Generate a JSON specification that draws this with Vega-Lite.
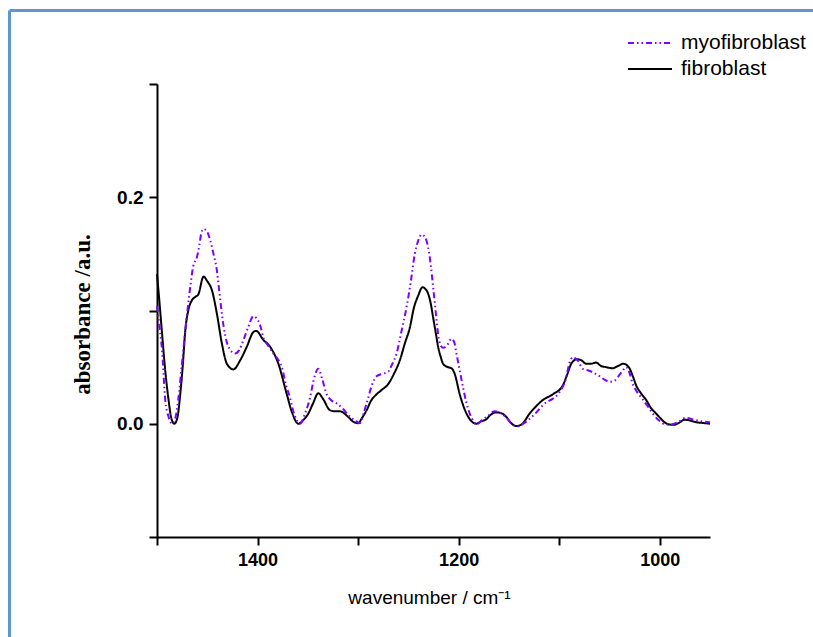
{
  "$schema": "https://vega.github.io/schema/vega-lite/v6.json",
  "usermeta": {"embedOptions": {"actions": false}},
  "width": 553,
  "height": 453,
  "autosize": {"type": "none"},
  "padding": {"left": 157, "top": 84, "right": 103, "bottom": 100},
  "background": "white",
  "config": {"view": {"stroke": null}, "font": "Liberation Sans"},
  "datasets": {
    "spectra": [
      {"s":"fibroblast","w":1500,"a":0.132},{"s":"fibroblast","w":1497.7,"a":0.109},{"s":"fibroblast","w":1495,"a":0.080},{"s":"fibroblast","w":1491.8,"a":0.047},{"s":"fibroblast","w":1488.5,"a":0.021},{"s":"fibroblast","w":1485.8,"a":0.005},{"s":"fibroblast","w":1482.8,"a":0.0},{"s":"fibroblast","w":1479.8,"a":0.005},{"s":"fibroblast","w":1476.9,"a":0.026},{"s":"fibroblast","w":1474.4,"a":0.051},{"s":"fibroblast","w":1471.9,"a":0.082},{"s":"fibroblast","w":1468.9,"a":0.100},{"s":"fibroblast","w":1465.3,"a":0.109},{"s":"fibroblast","w":1462,"a":0.112},{"s":"fibroblast","w":1459,"a":0.114},{"s":"fibroblast","w":1453.7,"a":0.130},{"s":"fibroblast","w":1450.1,"a":0.126},{"s":"fibroblast","w":1445.4,"a":0.118},{"s":"fibroblast","w":1440.4,"a":0.097},{"s":"fibroblast","w":1435.5,"a":0.071},{"s":"fibroblast","w":1430.5,"a":0.053},{"s":"fibroblast","w":1424,"a":0.048},{"s":"fibroblast","w":1417.3,"a":0.056},{"s":"fibroblast","w":1410.7,"a":0.068},{"s":"fibroblast","w":1404.1,"a":0.081},{"s":"fibroblast","w":1401.4,"a":0.082},{"s":"fibroblast","w":1394.2,"a":0.074},{"s":"fibroblast","w":1387.5,"a":0.068},{"s":"fibroblast","w":1379.3,"a":0.053},{"s":"fibroblast","w":1370.9,"a":0.026},{"s":"fibroblast","w":1365.7,"a":0.010},{"s":"fibroblast","w":1359.4,"a":0.0},{"s":"fibroblast","w":1354.8,"a":0.003},{"s":"fibroblast","w":1349.5,"a":0.009},{"s":"fibroblast","w":1344.8,"a":0.018},{"s":"fibroblast","w":1339.6,"a":0.027},{"s":"fibroblast","w":1334.9,"a":0.022},{"s":"fibroblast","w":1328,"a":0.012},{"s":"fibroblast","w":1323,"a":0.011},{"s":"fibroblast","w":1318,"a":0.011},{"s":"fibroblast","w":1309.8,"a":0.006},{"s":"fibroblast","w":1305.1,"a":0.002},{"s":"fibroblast","w":1299.9,"a":0.0005},{"s":"fibroblast","w":1296.2,"a":0.005},{"s":"fibroblast","w":1291.5,"a":0.012},{"s":"fibroblast","w":1287.3,"a":0.020},{"s":"fibroblast","w":1281.6,"a":0.026},{"s":"fibroblast","w":1276.3,"a":0.030},{"s":"fibroblast","w":1270.1,"a":0.035},{"s":"fibroblast","w":1264.4,"a":0.044},{"s":"fibroblast","w":1258.5,"a":0.056},{"s":"fibroblast","w":1253.5,"a":0.071},{"s":"fibroblast","w":1248.5,"a":0.085},{"s":"fibroblast","w":1244.6,"a":0.102},{"s":"fibroblast","w":1240.3,"a":0.113},{"s":"fibroblast","w":1235.9,"a":0.1206},{"s":"fibroblast","w":1233.1,"a":0.119},{"s":"fibroblast","w":1230.4,"a":0.115},{"s":"fibroblast","w":1227.7,"a":0.106},{"s":"fibroblast","w":1225.4,"a":0.094},{"s":"fibroblast","w":1222.7,"a":0.080},{"s":"fibroblast","w":1220.4,"a":0.068},{"s":"fibroblast","w":1217.8,"a":0.059},{"s":"fibroblast","w":1215.5,"a":0.053},{"s":"fibroblast","w":1210.8,"a":0.050},{"s":"fibroblast","w":1207.1,"a":0.049},{"s":"fibroblast","w":1203.9,"a":0.044},{"s":"fibroblast","w":1198.9,"a":0.026},{"s":"fibroblast","w":1192.2,"a":0.009},{"s":"fibroblast","w":1188,"a":0.003},{"s":"fibroblast","w":1182.3,"a":0.0},{"s":"fibroblast","w":1178,"a":0.002},{"s":"fibroblast","w":1172.4,"a":0.004},{"s":"fibroblast","w":1168.1,"a":0.008},{"s":"fibroblast","w":1162.5,"a":0.010},{"s":"fibroblast","w":1158.2,"a":0.0095},{"s":"fibroblast","w":1152.5,"a":0.006},{"s":"fibroblast","w":1148.3,"a":0.001},{"s":"fibroblast","w":1142.6,"a":-0.002},{"s":"fibroblast","w":1137.3,"a":-0.0006},{"s":"fibroblast","w":1129.4,"a":0.009},{"s":"fibroblast","w":1123.4,"a":0.015},{"s":"fibroblast","w":1116.2,"a":0.021},{"s":"fibroblast","w":1106.3,"a":0.026},{"s":"fibroblast","w":1096.3,"a":0.034},{"s":"fibroblast","w":1092.2,"a":0.043},{"s":"fibroblast","w":1088,"a":0.053},{"s":"fibroblast","w":1082.4,"a":0.057},{"s":"fibroblast","w":1077.8,"a":0.056},{"s":"fibroblast","w":1073.1,"a":0.053},{"s":"fibroblast","w":1068.4,"a":0.053},{"s":"fibroblast","w":1063.2,"a":0.054},{"s":"fibroblast","w":1058.4,"a":0.051},{"s":"fibroblast","w":1053.3,"a":0.050},{"s":"fibroblast","w":1046.7,"a":0.049},{"s":"fibroblast","w":1041.5,"a":0.051},{"s":"fibroblast","w":1036.1,"a":0.053},{"s":"fibroblast","w":1030.1,"a":0.049},{"s":"fibroblast","w":1027.2,"a":0.043},{"s":"fibroblast","w":1023.5,"a":0.034},{"s":"fibroblast","w":1018.7,"a":0.027},{"s":"fibroblast","w":1013.5,"a":0.021},{"s":"fibroblast","w":1008.8,"a":0.014},{"s":"fibroblast","w":1003.6,"a":0.009},{"s":"fibroblast","w":999.4,"a":0.005},{"s":"fibroblast","w":995.4,"a":0.0014},{"s":"fibroblast","w":990.5,"a":-0.0006},{"s":"fibroblast","w":985.5,"a":-0.0009},{"s":"fibroblast","w":980.5,"a":0.001},{"s":"fibroblast","w":975.5,"a":0.0035},{"s":"fibroblast","w":970.6,"a":0.003},{"s":"fibroblast","w":963.9,"a":0.0014},{"s":"fibroblast","w":957.2,"a":0.0007},{"s":"fibroblast","w":950,"a":0.0},
      {"s":"myofibroblast","w":1500,"a":0.104},{"s":"myofibroblast","w":1497.7,"a":0.087},{"s":"myofibroblast","w":1495,"a":0.065},{"s":"myofibroblast","w":1491.8,"a":0.021},{"s":"myofibroblast","w":1488.8,"a":0.007},{"s":"myofibroblast","w":1485.1,"a":0.0},{"s":"myofibroblast","w":1481.8,"a":0.005},{"s":"myofibroblast","w":1478.9,"a":0.021},{"s":"myofibroblast","w":1475.2,"a":0.053},{"s":"myofibroblast","w":1471.9,"a":0.082},{"s":"myofibroblast","w":1466.9,"a":0.121},{"s":"myofibroblast","w":1464,"a":0.139},{"s":"myofibroblast","w":1460.3,"a":0.147},{"s":"myofibroblast","w":1458,"a":0.157},{"s":"myofibroblast","w":1456,"a":0.168},{"s":"myofibroblast","w":1453.7,"a":0.172},{"s":"myofibroblast","w":1451.1,"a":0.171},{"s":"myofibroblast","w":1447.1,"a":0.162},{"s":"myofibroblast","w":1444.1,"a":0.151},{"s":"myofibroblast","w":1440.4,"a":0.135},{"s":"myofibroblast","w":1438.2,"a":0.118},{"s":"myofibroblast","w":1435.5,"a":0.097},{"s":"myofibroblast","w":1432.2,"a":0.078},{"s":"myofibroblast","w":1428.9,"a":0.068},{"s":"myofibroblast","w":1422.3,"a":0.062},{"s":"myofibroblast","w":1418.3,"a":0.065},{"s":"myofibroblast","w":1414,"a":0.074},{"s":"myofibroblast","w":1409.4,"a":0.085},{"s":"myofibroblast","w":1404.1,"a":0.095},{"s":"myofibroblast","w":1400.9,"a":0.093},{"s":"myofibroblast","w":1397.4,"a":0.087},{"s":"myofibroblast","w":1394.2,"a":0.076},{"s":"myofibroblast","w":1389.5,"a":0.069},{"s":"myofibroblast","w":1384.2,"a":0.062},{"s":"myofibroblast","w":1380.6,"a":0.058},{"s":"myofibroblast","w":1375.9,"a":0.050},{"s":"myofibroblast","w":1371.6,"a":0.034},{"s":"myofibroblast","w":1367.7,"a":0.023},{"s":"myofibroblast","w":1364.7,"a":0.012},{"s":"myofibroblast","w":1361,"a":0.003},{"s":"myofibroblast","w":1357.7,"a":0.0},{"s":"myofibroblast","w":1352.8,"a":0.009},{"s":"myofibroblast","w":1347.8,"a":0.023},{"s":"myofibroblast","w":1343.8,"a":0.040},{"s":"myofibroblast","w":1339.6,"a":0.0485},{"s":"myofibroblast","w":1335.9,"a":0.040},{"s":"myofibroblast","w":1331.2,"a":0.026},{"s":"myofibroblast","w":1327,"a":0.021},{"s":"myofibroblast","w":1321.3,"a":0.018},{"s":"myofibroblast","w":1314.8,"a":0.013},{"s":"myofibroblast","w":1309.1,"a":0.007},{"s":"myofibroblast","w":1303.1,"a":0.003},{"s":"myofibroblast","w":1298.2,"a":0.0005},{"s":"myofibroblast","w":1294.2,"a":0.010},{"s":"myofibroblast","w":1289.9,"a":0.023},{"s":"myofibroblast","w":1286.3,"a":0.034},{"s":"myofibroblast","w":1281.6,"a":0.042},{"s":"myofibroblast","w":1276.3,"a":0.044},{"s":"myofibroblast","w":1270.1,"a":0.046},{"s":"myofibroblast","w":1265.9,"a":0.053},{"s":"myofibroblast","w":1261.7,"a":0.062},{"s":"myofibroblast","w":1257,"a":0.081},{"s":"myofibroblast","w":1251.8,"a":0.103},{"s":"myofibroblast","w":1247.5,"a":0.126},{"s":"myofibroblast","w":1243.6,"a":0.150},{"s":"myofibroblast","w":1240.1,"a":0.162},{"s":"myofibroblast","w":1236.9,"a":0.167},{"s":"myofibroblast","w":1233.6,"a":0.165},{"s":"myofibroblast","w":1230.4,"a":0.156},{"s":"myofibroblast","w":1227.7,"a":0.140},{"s":"myofibroblast","w":1225.4,"a":0.121},{"s":"myofibroblast","w":1222.7,"a":0.098},{"s":"myofibroblast","w":1220.4,"a":0.079},{"s":"myofibroblast","w":1217.8,"a":0.069},{"s":"myofibroblast","w":1215.5,"a":0.067},{"s":"myofibroblast","w":1211.8,"a":0.069},{"s":"myofibroblast","w":1207.1,"a":0.075},{"s":"myofibroblast","w":1204.4,"a":0.072},{"s":"myofibroblast","w":1202.2,"a":0.062},{"s":"myofibroblast","w":1198.9,"a":0.047},{"s":"myofibroblast","w":1195.6,"a":0.032},{"s":"myofibroblast","w":1192.4,"a":0.019},{"s":"myofibroblast","w":1189,"a":0.009},{"s":"myofibroblast","w":1185,"a":0.002},{"s":"myofibroblast","w":1182,"a":-0.0006},{"s":"myofibroblast","w":1177.1,"a":0.003},{"s":"myofibroblast","w":1172.1,"a":0.006},{"s":"myofibroblast","w":1164.1,"a":0.011},{"s":"myofibroblast","w":1158.2,"a":0.0095},{"s":"myofibroblast","w":1152.5,"a":0.0055},{"s":"myofibroblast","w":1148.3,"a":0.001},{"s":"myofibroblast","w":1142.6,"a":-0.0024},{"s":"myofibroblast","w":1135.4,"a":0.0003},{"s":"myofibroblast","w":1126.1,"a":0.007},{"s":"myofibroblast","w":1112.8,"a":0.019},{"s":"myofibroblast","w":1106.6,"a":0.022},{"s":"myofibroblast","w":1099.6,"a":0.028},{"s":"myofibroblast","w":1093,"a":0.041},{"s":"myofibroblast","w":1089.7,"a":0.054},{"s":"myofibroblast","w":1086.4,"a":0.0588},{"s":"myofibroblast","w":1081.7,"a":0.056},{"s":"myofibroblast","w":1076.5,"a":0.0485},{"s":"myofibroblast","w":1070.8,"a":0.047},{"s":"myofibroblast","w":1064.9,"a":0.0447},{"s":"myofibroblast","w":1059.9,"a":0.042},{"s":"myofibroblast","w":1055,"a":0.039},{"s":"myofibroblast","w":1050,"a":0.037},{"s":"myofibroblast","w":1045,"a":0.038},{"s":"myofibroblast","w":1041,"a":0.042},{"s":"myofibroblast","w":1036.8,"a":0.047},{"s":"myofibroblast","w":1033.4,"a":0.050},{"s":"myofibroblast","w":1030.1,"a":0.045},{"s":"myofibroblast","w":1027.2,"a":0.036},{"s":"myofibroblast","w":1023.2,"a":0.029},{"s":"myofibroblast","w":1017.3,"a":0.022},{"s":"myofibroblast","w":1012.3,"a":0.016},{"s":"myofibroblast","w":1007,"a":0.009},{"s":"myofibroblast","w":1000.9,"a":0.003},{"s":"myofibroblast","w":994.2,"a":-0.0006},{"s":"myofibroblast","w":988.4,"a":-0.0006},{"s":"myofibroblast","w":981,"a":0.002},{"s":"myofibroblast","w":974.1,"a":0.0053},{"s":"myofibroblast","w":967.1,"a":0.0038},{"s":"myofibroblast","w":959.2,"a":0.0023},{"s":"myofibroblast","w":950,"a":0.0014}
    ]
  },
  "data": {"name": "spectra"},
  "layer": [
    {
      "mark": {"type": "line", "opacity": 0},
      "encoding": {
        "x": {"field": "w", "type": "quantitative",
          "scale": {"domain": [950, 1500], "range": [-148, 660], "nice": false, "zero": false},
          "axis": {"orient": "top", "offset": 74, "domainColor": "#5f96d0", "domainWidth": 3, "ticks": false, "labels": false, "title": null, "grid": false}},
        "y": {"field": "a", "type": "quantitative",
          "scale": {"domain": [-0.1, 0.3], "range": [560, -74], "nice": false, "zero": false},
          "axis": {"orient": "left", "offset": 148, "domainColor": "#5f96d0", "domainWidth": 3, "ticks": false, "labels": false, "title": null, "grid": false}}
      }
    },
    {
      "mark": {"type": "line", "interpolate": "monotone", "strokeWidth": 2},
      "encoding": {
        "x": {"field": "w", "type": "quantitative",
          "scale": {"domain": [950, 1500], "reverse": true, "nice": false, "zero": false},
          "axis": {"orient": "bottom", "values": [1500, 1400, 1300, 1200, 1100, 1000], "format": "d",
            "labelExpr": "datum.value % 200 == 0 ? datum.label : ''",
            "grid": false, "domainColor": "#000000", "domainWidth": 2, "tickColor": "#000000", "tickWidth": 2, "tickSize": 8,
            "labelFont": "Liberation Sans", "labelFontWeight": "bold", "labelFontSize": 18, "labelColor": "#000000", "labelPadding": 6,
            "labelFlush": false, "labelOverlap": false,
            "title": "wavenumber / cm⁻¹", "titleFont": "Liberation Sans", "titleFontWeight": "normal", "titleFontSize": 19, "titleColor": "#000000",
            "titleBaseline": "alphabetic", "titleY": 66, "titleX": 272}},
        "y": {"field": "a", "type": "quantitative",
          "scale": {"domain": [-0.1, 0.3], "nice": false, "zero": false},
          "axis": {"orient": "left", "values": [-0.1, 0, 0.1, 0.2, 0.3],
            "labelExpr": "(abs(datum.value) < 1e-9 || abs(datum.value - 0.2) < 1e-9) ? format(datum.value, '.1f') : ''",
            "grid": false, "domainColor": "#000000", "domainWidth": 2, "tickColor": "#000000", "tickWidth": 2, "tickSize": 8,
            "labelFont": "Liberation Sans", "labelFontWeight": "bold", "labelFontSize": 19, "labelColor": "#000000", "labelPadding": 6,
            "labelFlush": false, "labelOverlap": false,
            "title": "absorbance /a.u.", "titleFont": "Liberation Serif", "titleFontWeight": "bold", "titleFontSize": 23, "titleColor": "#000000",
            "titleAngle": -90, "titleBaseline": "alphabetic", "titleAlign": "center", "titleX": -68, "titleY": 230}},
        "color": {"field": "s", "type": "nominal",
          "scale": {"domain": ["myofibroblast", "fibroblast"], "range": ["#8000ff", "#000000"]},
          "legend": {"title": null, "orient": "none", "legendX": 481, "legendY": -53, "symbolType": "M-2,0L2,0", "symbolSize": 484, "symbolStrokeWidth": 2,
            "labelFont": "Liberation Sans", "labelFontSize": 21, "labelColor": "#000000", "labelOffset": 19, "rowPadding": 4}},
        "strokeDash": {"field": "s", "type": "nominal",
          "scale": {"domain": ["myofibroblast", "fibroblast"], "range": [[6, 3, 1.5, 3, 1.5, 3], [1, 0]]},
          "legend": {"title": null, "orient": "none", "legendX": 481, "legendY": -53, "symbolType": "M-2,0L2,0", "symbolSize": 484, "symbolStrokeWidth": 2,
            "labelFont": "Liberation Sans", "labelFontSize": 21, "labelColor": "#000000", "labelOffset": 19, "rowPadding": 4}}
      }
    }
  ],
  "resolve": {"scale": {"x": "independent", "y": "independent"}, "axis": {"x": "independent", "y": "independent"}}
}
